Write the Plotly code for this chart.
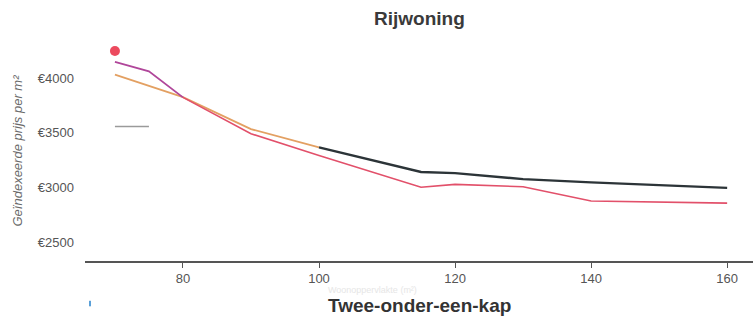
import plotly.graph_objects as go

# Living area (m²) and indexed price per m² (EUR)
area_red = [70, 75, 80, 90, 100, 115, 120, 130, 140, 160]
price_red = [4146, 4060, 3822, 3490, 3290, 3000, 3027, 3005, 2875, 2855]

area_orange = [70, 80, 90, 100]
price_orange = [4030, 3824, 3532, 3365]

area_dark = [100, 115, 120, 130, 140, 160]
price_dark = [3365, 3140, 3130, 3075, 3045, 2995]

area_grey = [70, 75]
price_grey = [3555, 3555]

area_dot = [70]
price_dot = [4247]

y_ticks = [2500, 3000, 3500, 4000]
y_tick_text = ["€2500", "€3000", "€3500", "€4000"]
x_ticks = [80, 100, 120, 140, 160]

FONT = "Liberation Sans, Arial, sans-serif"

fig = go.Figure()

fig.add_trace(go.Scatter(x=area_grey, y=price_grey, mode="lines",
                         line=dict(color="#9a9a9a", width=1.5), hoverinfo="skip"))
fig.add_trace(go.Scatter(x=area_orange, y=price_orange, mode="lines",
                         line=dict(color="#e3a062", width=1.8)))
fig.add_trace(go.Scatter(x=area_red[:3], y=price_red[:3], mode="lines",
                         line=dict(color="#b0469a", width=1.8)))
fig.add_trace(go.Scatter(x=area_red[2:], y=price_red[2:], mode="lines",
                         line=dict(color="#e2506a", width=1.6)))
fig.add_trace(go.Scatter(x=area_dark, y=price_dark, mode="lines",
                         line=dict(color="#2c3438", width=2.4)))
fig.add_trace(go.Scatter(x=area_dot, y=price_dot, mode="markers",
                         marker=dict(color="#ec4a5e", size=10, line=dict(width=0))))

fig.update_layout(
    width=753, height=325,
    margin=dict(l=85, r=0, t=40, b=64),
    paper_bgcolor="white", plot_bgcolor="white",
    showlegend=False,
    font=dict(family=FONT, color="#555555", size=13),
    xaxis=dict(
        range=[65.6, 163.8], tickvals=x_ticks, ticks="outside", ticklen=5,
        tickcolor="#555555", showline=True, linecolor="#555555", linewidth=1.5,
        showgrid=False, zeroline=False, tickfont=dict(size=13, color="#555555"),
    ),
    yaxis=dict(
        range=[2326, 4347], tickvals=y_ticks, ticktext=y_tick_text,
        showgrid=False, zeroline=False, showline=False, ticks="",
        ticklabelstandoff=10, tickfont=dict(size=13, color="#555555"),
    ),
    annotations=[
        dict(text="<b>Rijwoning</b>", x=0.5, y=1, xref="paper", yref="paper",
             yanchor="middle", yshift=22, showarrow=False,
             font=dict(size=19, color="#3a3a3a")),
        dict(text="<b>Twee-onder-een-kap</b>", x=0.5, y=0, xref="paper", yref="paper",
             yanchor="middle", yshift=-44, showarrow=False,
             font=dict(size=19, color="#333333")),
        dict(text="Woonoppervlakte (m²)", x=0.43, y=0, xref="paper", yref="paper",
             yanchor="middle", yshift=-29, showarrow=False,
             font=dict(size=9, color="#e6e6e6")),
        dict(text="<i>Geïndexeerde prijs per m²</i>", x=0, y=0.5, xref="paper",
             yref="paper", xanchor="center", yanchor="middle", xshift=-68,
             textangle=-90, showarrow=False, font=dict(size=13, color="#6a6a6a")),
    ],
    shapes=[
        dict(type="line", xref="paper", yref="paper", x0=0.0075, x1=0.0075,
             y0=-0.18, y1=-0.205, line=dict(color="#5aa0d8", width=2)),
    ],
)

fig.write_html("out.html")
